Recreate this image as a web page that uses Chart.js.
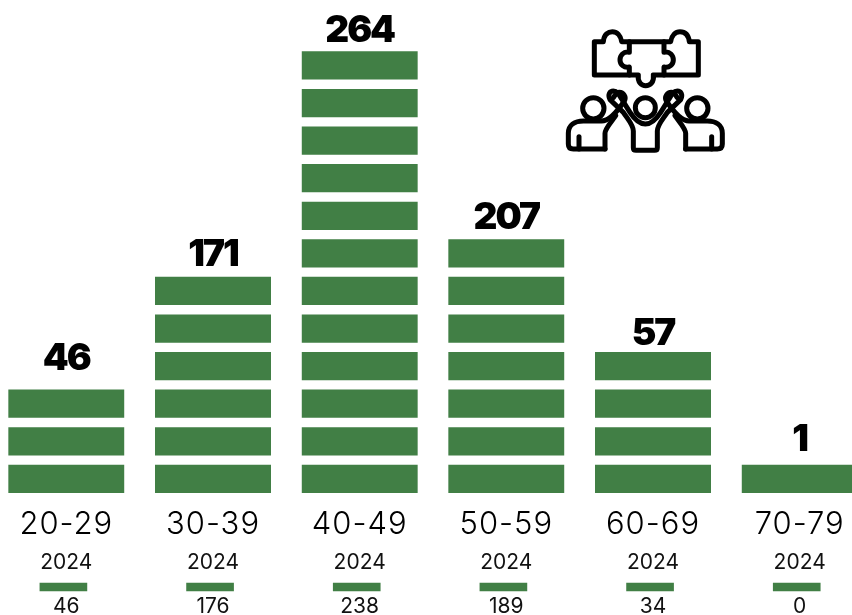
<!DOCTYPE html>
<html>
<head>
<meta charset="utf-8">
<title>Age groups</title>
<script src="https://cdn.jsdelivr.net/npm/chart.js@4"></script>
<style>
    html, body { margin: 0; padding: 0; background: #fff; }
    #page { position: relative; width: 852px; height: 615px; overflow: hidden; }
    #ageChart { position: absolute; left: -7px; top: 0; }
    #teamIcon { position: absolute; left: 560px; top: 25px; }
</style>
</head>
<body>
<div id="page">
    <canvas id="ageChart" width="880" height="615"></canvas>
    <svg id="teamIcon" width="175" height="135" viewBox="0 0 525 405" fill="none"
         stroke="#000" stroke-width="15" stroke-linecap="round" stroke-linejoin="round">
        <!-- puzzle -->
        <path d="M103 50V150H235C232 172 245 182 257 182C270 182 283 172 280 150H415V50H388C385 25 372 20 360 20C347 20 335 30 332 50H185C182 30 170 20 157 20C145 20 132 28 130 50Z"/>
        <path d="M208 50V82C190 78 180 92 180 105C180 118 192 130 208 126V150"/>
        <path d="M312 50V82C330 78 340 92 340 105C340 118 328 130 312 126V150"/>
        <!-- middle person -->
        <circle cx="256" cy="248" r="30"/>
        <path d="M220 368V318C220 300 205 285 190 262L150 224C142 208 150 198 160 198C172 198 178 210 185 222L210 262C225 285 240 297 256 297C272 297 287 285 302 262L327 222C334 210 340 198 352 198C362 198 370 208 362 224L322 262C307 285 292 300 292 318V368Q292 376 284 376H228Q220 376 220 368Z"/>
        <!-- outer people, the right one is the left one mirrored -->
        <g id="sidePerson">
            <circle cx="100" cy="250" r="32"/>
            <path d="M135 372H40Q25 372 25 357V325C25 300 45 288 70 288H125C150 288 175 255 193 228C200 215 190 202 178 202C168 202 165 212 160 218"/>
            <path d="M135 372V325C135 310 155 290 167 272"/>
            <path d="M57 335V372"/>
        </g>
        <use href="#sidePerson" transform="translate(512 0) scale(-1 1)"/>
    </svg>
</div>

<script>
    'use strict';

    // age bands, one column each
    var ageGroups = ['20-29', '30-39', '40-49', '50-59', '60-69', '70-79'];
    var totals = [46, 171, 264, 207, 57, 1];
    var blockCounts = [3, 6, 12, 7, 4, 1];
    var previousYear = '2024';
    var previousTotals = [46, 176, 238, 189, 34, 0];

    // how far each total floats above its column, in pixels
    var totalLift = [26, 17, 16, 17, 13, 20];

    var GREEN = '#417f45';
    var FONT = 'Inter, "Noto Sans", sans-serif';

    // y units are blocks; the key swatch sits below the zero line
    var KEY_BOTTOM = -2.48;
    var KEY_TOP = -2.27;
    var tallest = Math.max.apply(null, blockCounts);

    var datasets = [];
    for (var row = 0; row < tallest; row++) {
        datasets.push({
            data: blockCounts.map(function (count) {
                return count > row ? [row, row + 1] : null;
            }),
            backgroundColor: GREEN,
            borderColor: '#fff',
            borderWidth: { top: 5, bottom: 5, left: 0, right: 0 },
            borderSkipped: false,
            barThickness: 116
        });
    }
    // swatches run on their own x axis, a little left of the column centres
    datasets.push({
        xAxisID: 'xKey',
        data: ageGroups.map(function (group, i) { return { x: i, y: [KEY_BOTTOM, KEY_TOP] }; }),
        backgroundColor: GREEN,
        borderWidth: 0,
        barThickness: 47
    });

    var columnLabels = {
        id: 'columnLabels',
        afterDatasetsDraw: function (chart) {
            var ctx = chart.ctx;
            var x = chart.scales.x;
            var y = chart.scales.y;

            ctx.save();
            ctx.textAlign = 'center';
            ctx.textBaseline = 'middle';
            ageGroups.forEach(function (group, i) {
                var cx = x.getPixelForValue(i);

                ctx.fillStyle = '#000';
                ctx.font = '900 37px ' + FONT;
                ctx.letterSpacing = '-2px';
                ctx.fillText(String(totals[i]), cx, y.getPixelForValue(blockCounts[i]) - totalLift[i]);

                ctx.font = '300 31px ' + FONT;
                ctx.letterSpacing = '1px';
                ctx.fillText(group, cx, y.getPixelForValue(-0.73));

                ctx.font = '400 21px ' + FONT;
                ctx.letterSpacing = '0px';
                ctx.fillStyle = '#111';
                ctx.fillText(previousYear, cx, y.getPixelForValue(-1.72));
                ctx.fillText(String(previousTotals[i]), cx, y.getPixelForValue(-2.89));
            });
            ctx.restore();
        }
    };

    new Chart(document.getElementById('ageChart').getContext('2d'), {
        type: 'bar',
        data: { labels: ageGroups, datasets: datasets },
        plugins: [columnLabels],
        options: {
            responsive: false,
            animation: false,
            grouped: false,
            layout: { padding: 0 },
            plugins: { legend: { display: false }, tooltip: { enabled: false } },
            scales: {
                x: { display: false },
                xKey: { type: 'linear', display: false, offset: false, min: -0.48, max: 5.52 },
                y: { display: false, min: -3.12, max: 13.24 }
            }
        }
    });
</script>
</body>
</html>
